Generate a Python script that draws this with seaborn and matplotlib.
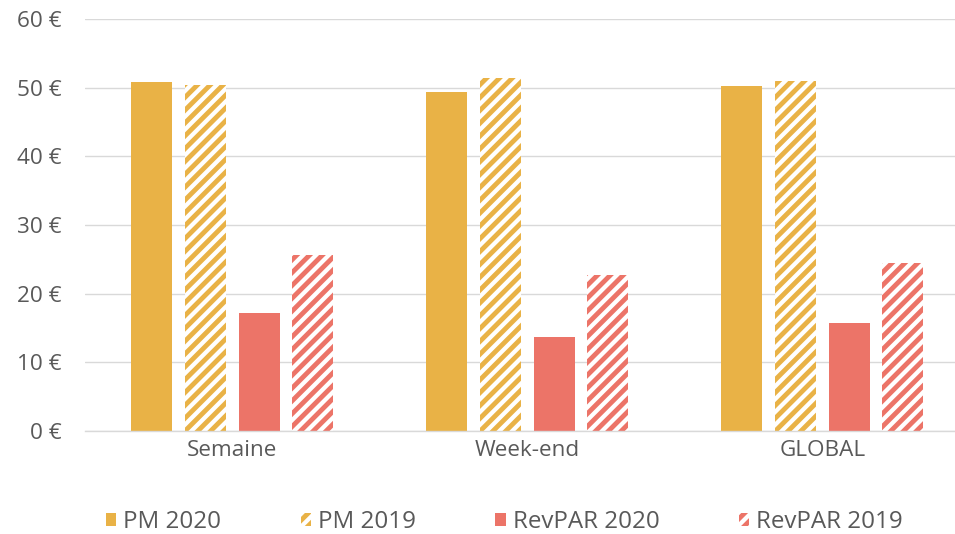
import matplotlib
matplotlib.use("Agg")
import matplotlib.pyplot as plt
from matplotlib.patches import Patch
import seaborn as sns
import pandas as pd

categories = ["Semaine", "Week-end", "GLOBAL"]
series = ["PM 2020", "PM 2019", "RevPAR 2020", "RevPAR 2019"]
pm_2020 = [50.8, 49.3, 50.2]
pm_2019 = [50.4, 51.4, 50.9]
revpar_2020 = [17.2, 13.7, 15.7]
revpar_2019 = [25.6, 22.7, 24.5]
yticks = [0, 10, 20, 30, 40, 50, 60]

colors = ["#E9B246", "#E9B246", "#EC7468", "#EC7468"]
hatched = [False, True, False, True]

rows = []
for s, vals in zip(series, [pm_2020, pm_2019, revpar_2020, revpar_2019]):
    for c, v in zip(categories, vals):
        rows.append({"cat": c, "series": s, "value": v})
df = pd.DataFrame(rows)

DPI = 77
sns.set_theme(style="white")
plt.rcParams["font.family"] = ["Open Sans", "DejaVu Sans"]
plt.rcParams["hatch.linewidth"] = 4.5

fig = plt.figure(figsize=(955 / DPI, 534 / DPI), dpi=DPI)
ax = fig.add_axes([85 / 955, 1 - 431 / 534, (955 - 85) / 955, (431 - 19) / 534])

sns.barplot(data=df, x="cat", y="value", hue="series", order=categories,
            hue_order=series, palette=colors, width=0.728, gap=0.236,
            ax=ax, legend=False, saturation=1, errorbar=None)

HATCH = "//"
for cont, col, h in zip(ax.containers, colors, hatched):
    for p in cont.patches:
        p.set_linewidth(0)
        if h:
            p.set_facecolor("white")
            p.set_edgecolor(col)
            p.set_hatch(HATCH)
            try:
                p.set_hatchcolor(col)
            except Exception:
                pass

ax.set_ylim(0, 60)
ax.set_xlim(-0.5, 2.45)
ax.set_yticks(yticks)
ax.set_yticklabels([f"{t} €" for t in yticks])
ax.yaxis.grid(True, color="#D9D9D9", linewidth=1.3)
ax.set_axisbelow(True)
for s in ["left", "right", "top"]:
    ax.spines[s].set_visible(False)
ax.spines["bottom"].set_color("#D9D9D9")
ax.spines["bottom"].set_linewidth(1.3)
ax.set_xlabel("")
ax.set_ylabel("")
ax.tick_params(axis="both", length=0, labelsize=21, colors="#595959")
ax.tick_params(axis="y", pad=22)
ax.tick_params(axis="x", pad=8)

handles = []
for s, col, h in zip(series, colors, hatched):
    if h:
        handles.append(Patch(facecolor="white", edgecolor=col, hatch=HATCH, linewidth=0, label=s))
    else:
        handles.append(Patch(facecolor=col, edgecolor=col, linewidth=0, label=s))
leg = fig.legend(handles=handles, loc="center left", bbox_to_anchor=(106 / 955, 1 - 522 / 534),
                 ncol=4, frameon=False, fontsize=22.5, handlelength=0.42, handleheight=0.42,
                 handletextpad=0.3, columnspacing=3.3, borderpad=0, borderaxespad=0)
for t in leg.get_texts():
    t.set_color("#595959")

fig.savefig("out.png", dpi=DPI)
